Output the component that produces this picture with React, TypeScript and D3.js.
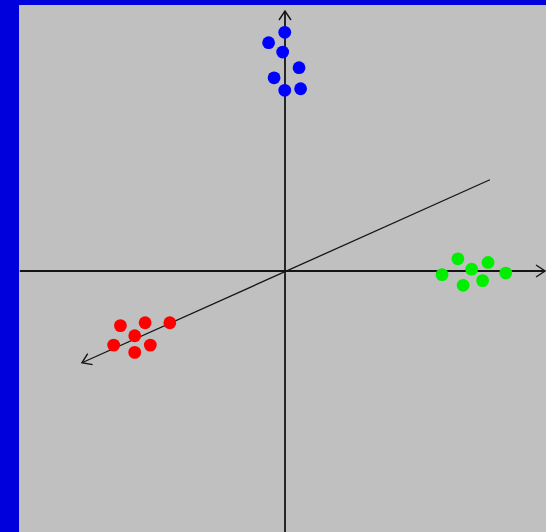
import React from "react";
import * as d3 from "d3";

// Three point clusters, one lying along each projected axis
const blueX = [-0.01, -0.63, -0.09, 0.54, -0.42, -0.01, 0.6];
const blueY = [9.18, 8.78, 8.42, 7.82, 7.43, 6.95, 7.01];

const greenX = [6.65, 7.81, 7.18, 6.04, 8.49, 7.6, 6.85];
const greenY = [0.47, 0.33, 0.07, -0.14, -0.08, -0.37, -0.55];

const redX = [-6.33, -5.38, -4.43, -5.78, -6.59, -5.18, -5.78];
const redY = [-2.1, -1.99, -1.99, -2.49, -2.85, -2.85, -3.13];

// Axis segments; the far end (axisTo) carries an open arrowhead
const axisNames = ["vertical", "horizontal", "depth"];
const axisFrom = [
  [0, -10.2],
  [-10.2, 0],
  [7.88, 3.51],
];
const axisTo = [
  [0, 10.0],
  [10.0, 0],
  [-7.81, -3.53],
];

const W = 546;
const H = 532;

export default function App() {
  const x = d3.scaleLinear().domain([-10, 10]).range([25, 545]);
  const y = d3.scaleLinear().domain([-10, 10]).range([531, 11]);

  const clusters = [
    { xs: blueX, ys: blueY, color: "#0000ff" },
    { xs: greenX, ys: greenY, color: "#00ee00" },
    { xs: redX, ys: redY, color: "#ff0000" },
  ];

  const arrowLen = 9;
  const arrowHalf = 6;

  return (
    <svg
      width={W}
      height={H}
      style={{ position: "fixed", left: 0, top: 0, display: "block" }}
    >
      <rect x={0} y={0} width={W} height={H} fill="#0000dd" />
      <rect x={19} y={5} width={W - 19} height={H - 5} fill="#c0c0c0" />

      {axisNames.map((name, i) => {
        const x1 = x(axisFrom[i][0]);
        const y1 = y(axisFrom[i][1]);
        const x2 = x(axisTo[i][0]);
        const y2 = y(axisTo[i][1]);
        const ang = Math.atan2(y2 - y1, x2 - x1);
        const bx = x2 - arrowLen * Math.cos(ang);
        const by = y2 - arrowLen * Math.sin(ang);
        const px = -Math.sin(ang) * arrowHalf;
        const py = Math.cos(ang) * arrowHalf;
        const head = d3.line()([
          [bx + px, by + py],
          [x2, y2],
          [bx - px, by - py],
        ]);
        return (
          <g key={name} stroke="#151515" fill="none">
            <line
              x1={x1}
              y1={y1}
              x2={x2}
              y2={y2}
              strokeWidth={name === "depth" ? 1.3 : 1.8}
            />
            <path d={head ?? ""} strokeWidth={1.4} />
          </g>
        );
      })}

      {clusters.map((c, ci) => (
        <g key={ci} fill={c.color}>
          {c.xs.map((v, j) => (
            <circle key={j} cx={x(v)} cy={y(c.ys[j])} r={6.4} />
          ))}
        </g>
      ))}
    </svg>
  );
}
